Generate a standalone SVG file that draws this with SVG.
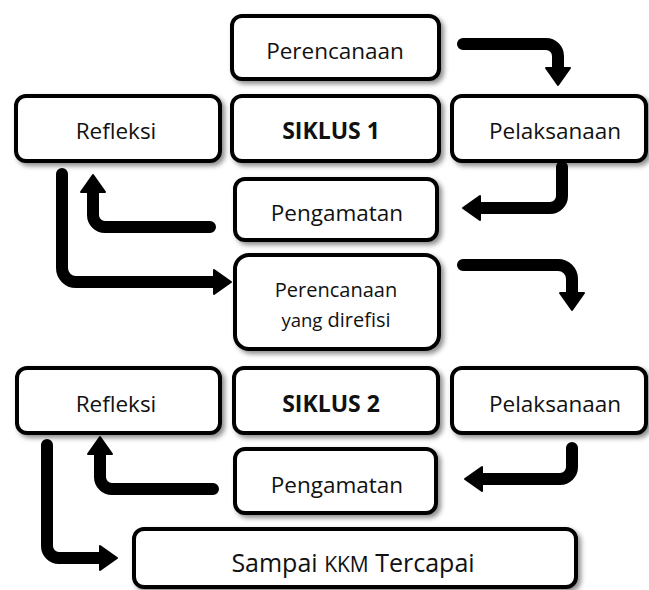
<svg xmlns="http://www.w3.org/2000/svg" width="649" height="590" viewBox="0 0 649 590">
<style>
.box{fill:#fff;stroke:#000;stroke-width:4;filter:url(#sh)}
.t{font-family:"Open Sans","Noto Sans",sans-serif;font-size:22.5px;fill:#111;text-anchor:middle}
.b{font-weight:bold;font-size:23px}
.s{font-size:20px}
.l{font-size:25px}
.arr{fill:none;stroke:#000;stroke-width:12;stroke-linecap:round;stroke-linejoin:round;marker-end:url(#ah)}
</style>
<defs>
<filter id="sh" x="-10%" y="-20%" width="130%" height="150%">
<feDropShadow dx="3" dy="3" stdDeviation="2.5" flood-color="#000" flood-opacity="0.45"/>
</filter>
<marker id="ah" markerUnits="userSpaceOnUse" markerWidth="22" markerHeight="28" viewBox="-2 -2 22 28" refX="0" refY="12" orient="auto">
<path d="M0,0 L17,12 L0,24 Z" fill="#000" stroke="#000" stroke-width="2" stroke-linejoin="round"/>
</marker>
</defs>
<rect width="649" height="590" fill="#fff"/>
<g id="perencanaan1"><rect class="box" x="232" y="16" width="207" height="63" rx="10"/><text class="t" x="335" y="59">Perencanaan</text></g>
<g id="refleksi1"><rect class="box" x="16" y="96" width="204" height="65" rx="10"/><text class="t" x="116" y="139">Refleksi</text></g>
<g id="siklus1"><rect class="box" x="232" y="96" width="207" height="65" rx="10"/><text class="t b" x="331" y="139">SIKLUS 1</text></g>
<g id="pelaksanaan1"><rect class="box" x="452" y="96" width="194" height="65" rx="10"/><text class="t" x="555" y="139">Pelaksanaan</text></g>
<g id="pengamatan1"><rect class="box" x="235" y="179" width="202" height="61" rx="10"/><text class="t" x="337" y="221">Pengamatan</text></g>
<g id="perencanaan2"><rect class="box" x="235" y="255" width="204" height="94" rx="14"/><text class="t s" x="336" y="297">Perencanaan</text><text class="t s" x="336" y="327"><tspan font-size="18.5">yang</tspan> direfisi</text></g>
<g id="refleksi2"><rect class="box" x="17" y="368" width="203" height="65" rx="10"/><text class="t" x="116" y="412">Refleksi</text></g>
<g id="siklus2"><rect class="box" x="234" y="368" width="204" height="65" rx="10"/><text class="t b" x="331" y="412">SIKLUS 2</text></g>
<g id="pelaksanaan2"><rect class="box" x="452" y="368" width="194" height="65" rx="10"/><text class="t" x="555" y="412">Pelaksanaan</text></g>
<g id="pengamatan2"><rect class="box" x="235" y="449" width="201" height="64" rx="10"/><text class="t" x="337" y="493">Pengamatan</text></g>
<g id="sampai"><rect class="box" x="134" y="529" width="442" height="58" rx="10"/><text class="t l" x="353" y="572">Sampai <tspan font-size="21">KKM</tspan> Tercapai</text></g>
<g id="connectors">
<path class="arr" d="M463,44 H546 A12,12 0 0 1 558,56 V68"/>
<path class="arr" d="M562,167 V196 A12,12 0 0 1 550,208 H480"/>
<path class="arr" d="M210,227 H105 A12,12 0 0 1 93,215 V192"/>
<path class="arr" d="M62,174 V268 A14,14 0 0 0 76,282 H214"/>
<path class="arr" d="M463,265 H558 A14,14 0 0 1 572,279 V293"/>
<path class="arr" d="M572,448 V467 A12,12 0 0 1 560,479 H482"/>
<path class="arr" d="M213,489 H112 A12,12 0 0 1 100,477 V454"/>
<path class="arr" d="M47,445 V546 A12,12 0 0 0 59,558 H100"/>
</g>
</svg>
